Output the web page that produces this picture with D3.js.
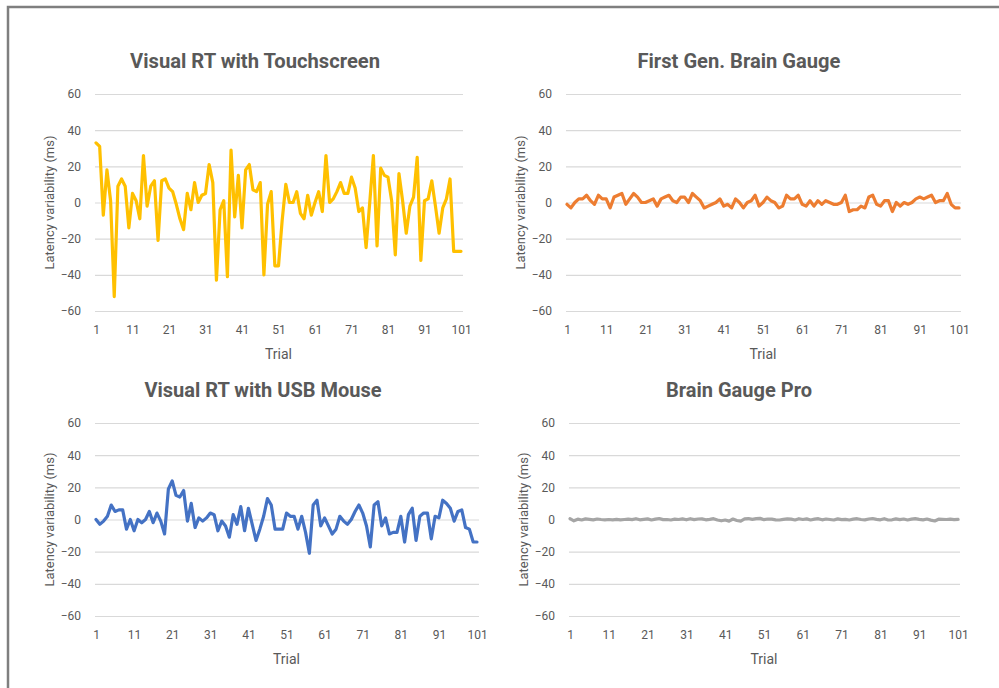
<!DOCTYPE html>
<html>
<head>
<meta charset="utf-8">
<script src="https://cdn.jsdelivr.net/npm/d3@7"></script>
<style>
  body { margin: 0; background: #fff; }
  svg text { font-family: Roboto, "Open Sans", sans-serif; fill: #595959; }
</style>
</head>
<body>
<div id="chart"></div>
<script>
// trial numbers and axis ticks
const trials = d3.range(1, 102);
const xTicks = d3.range(1, 102, 10);
const yTicks = [-60, -40, -20, 0, 20, 40, 60];

const titles = ["Visual RT with Touchscreen", "First Gen. Brain Gauge", "Visual RT with USB Mouse", "Brain Gauge Pro"];

// latency variability (ms) per trial
const touchscreen = [33, 31, -7, 18, 1, -52, 9, 13, 9, -14,
    5, 1, -9, 26, -2, 9, 12, -21, 12, 13,
    8, 6, -1, -9, -15, 5, -4, 11, 0, 4,
    5, 21, 11, -43, -4, 1, -41, 29, -8, 15,
    -14, 18, 21, 7, 6, 11, -40, -1, 6, -35,
    -35, -10, 10, 0, 0, 6, -6, -9, 4, -7,
    0, 6, -5, 26, 0, 2, 6, 11, 5, 5,
    14, 8, -5, -3, -25, 0, 26, -24, 19, 15,
    14, 1, -29, 16, 1, -17, -2, 3, 25, -32,
    1, 2, 12, -2, -17, -3, 2, 13, -27, -27, -27];

const firstGen = [-1, -3, 0, 2, 2, 4, 1, -1, 4, 2,
    2, -3, 3, 4, 5, -1, 2, 5, 3, 0,
    0, 1, 2, -2, 2, 3, 4, 1, 0, 3,
    3, 0, 5, 3, 1, -3, -2, -1, 0, 2,
    -2, -1, -3, 2, 0, -3, 0, 1, 4, -2,
    0, 3, 1, 0, -3, -2, 4, 2, 2, 4,
    -1, -2, 1, -2, 1, -1, 1, 0, -1, -1,
    0, 4, -5, -4, -4, -2, -3, 3, 4, -1,
    -2, 1, 1, -5, 0, -2, 0, -1, 0, 2,
    3, 2, 3, 4, 0, 1, 1, 5, -1, -3, -3];

const usbMouse = [0, -3, -1, 2, 9, 5, 6, 6, -6, 0,
    -7, 0, -2, 0, 5, -2, 4, -1, -9, 19,
    24, 15, 14, 18, -1, 10, -5, 1, -1, 1,
    4, 3, -7, -1, -4, -11, 3, -3, 8, -7,
    7, -3, -13, -6, 2, 13, 9, -6, -6, -6,
    4, 2, 2, -6, 2, -8, -21, 9, 12, -4,
    1, -4, -9, -6, 2, -1, -3, 0, 5, 9,
    4, -4, -17, 9, 11, -4, 1, -9, -8, -8,
    2, -14, 3, 7, -13, 2, 4, 4, -12, 2,
    1, 12, 10, 7, -1, 5, 6, -5, -6, -14, -14];

const gaugePro = [0.5, -0.8, 0.2, -0.3, 0.4, 0.1, -0.2, 0.3, 0, -0.2,
    0, -0.2, 0.1, -0.2, 0, 0.2, -0.1, 0.5, -0.2, 0.1,
    0.4, -0.3, 0.2, 0.6, -0.1, 0, -0.3, 0.2, 0, 0.4,
    -0.2, 0.5, -0.1, 0.3, 0.4, -0.2, 0.1, 0.5, -0.3, -0.8,
    -0.3, -1.0, 0.3, -0.6, -1.0, 0.4, 0.6, 0.1, 0.5, 0.7,
    -0.1, 0.3, 0.2, -0.2, -0.3, 0.1, 0.4, 0.2, -0.3, 0.5,
    0, 0.4, -0.3, 0.2, 0.5, -0.2, 0.3, 0, -0.3, 0.4,
    -0.1, 0.1, -0.3, 0.2, 0.5, 0, -0.2, 0.3, 0.6, 0.1,
    -0.2, 0.5, -0.3, -0.2, 0.4, -0.1, 0.3, -0.3, 0.2, 0.5,
    0.1, -0.2, 0.3, -0.4, -0.9, 0.2, 0.1, 0, 0.2, -0.1, 0.1];

const colors = ["#FFC000", "#ED7D31", "#4472C4", "#A5A5A5"];

const W = 999, H = 688;

const svg = d3.select("#chart").append("svg")
    .attr("width", W)
    .attr("height", H);

// grey frame round the figure (runs off the right and bottom edges)
svg.append("rect")
    .attr("x", 8).attr("y", 7)
    .attr("width", 1000).attr("height", 700)
    .attr("fill", "none")
    .attr("stroke", "#7f7f7f")
    .attr("stroke-width", 2.5);

// panel layout
const panels = [
    {values: touchscreen, left: 96, right: 461, top: 94, bottom: 311, titleX: 255, titleY: 68, titleW: 250},
    {values: firstGen, left: 567, right: 959, top: 94, bottom: 311, titleX: 739, titleY: 68, titleW: 203},
    {values: usbMouse, left: 96, right: 477, top: 423, bottom: 616, titleX: 263, titleY: 397, titleW: 237},
    {values: gaugePro, left: 570, right: 958, top: 423, bottom: 616, titleX: 739, titleY: 397, titleW: 146}
];

panels.forEach(function(p, i) {
    let x = d3.scaleLinear().domain([1, trials.length]).range([p.left, p.right]);
    let y = d3.scaleLinear().domain([-60, 60]).range([p.bottom, p.top]);

    let g = svg.append("g");

    // y axis with gridlines
    g.append("g")
        .attr("transform", "translate(" + (p.left - 1) + ",0)")
        .call(d3.axisLeft(y).tickValues(yTicks).tickSize(-(p.right - p.left + 3)).tickPadding(14))
        .attr("font-size", 12)
        .call(a => a.select(".domain").remove())
        .call(a => a.selectAll("line").attr("stroke", "#d9d9d9").attr("stroke-width", 1.2));

    // x axis, labels only
    g.append("g")
        .attr("transform", "translate(0," + p.bottom + ")")
        .call(d3.axisBottom(x).tickValues(xTicks).tickSize(0).tickPadding(14))
        .attr("font-size", 12)
        .call(a => a.select(".domain").remove());

    // the series
    let line = d3.line()
        .x((d, k) => x(trials[k]))
        .y(d => y(d));

    g.append("path")
        .datum(p.values)
        .attr("d", line)
        .attr("fill", "none")
        .attr("stroke", colors[i])
        .attr("stroke-width", 3.2)
        .attr("stroke-linejoin", "round")
        .attr("stroke-linecap", "round");

    // titles
    g.append("text")
        .attr("x", p.titleX)
        .attr("y", p.titleY)
        .attr("text-anchor", "middle")
        .attr("font-size", 21)
        .attr("font-weight", "bold")
        .attr("textLength", p.titleW)
        .attr("lengthAdjust", "spacingAndGlyphs")
        .text(titles[i]);

    g.append("text")
        .attr("x", (p.left + p.right) / 2)
        .attr("y", p.bottom + 48)
        .attr("text-anchor", "middle")
        .attr("font-size", 14)
        .text("Trial");

    g.append("text")
        .attr("transform", "translate(" + (p.left - 42) + "," + y(0) + ") rotate(-90)")
        .attr("text-anchor", "middle")
        .attr("font-size", 13)
        .text("Latency variability (ms)");
});
</script>
</body>
</html>
